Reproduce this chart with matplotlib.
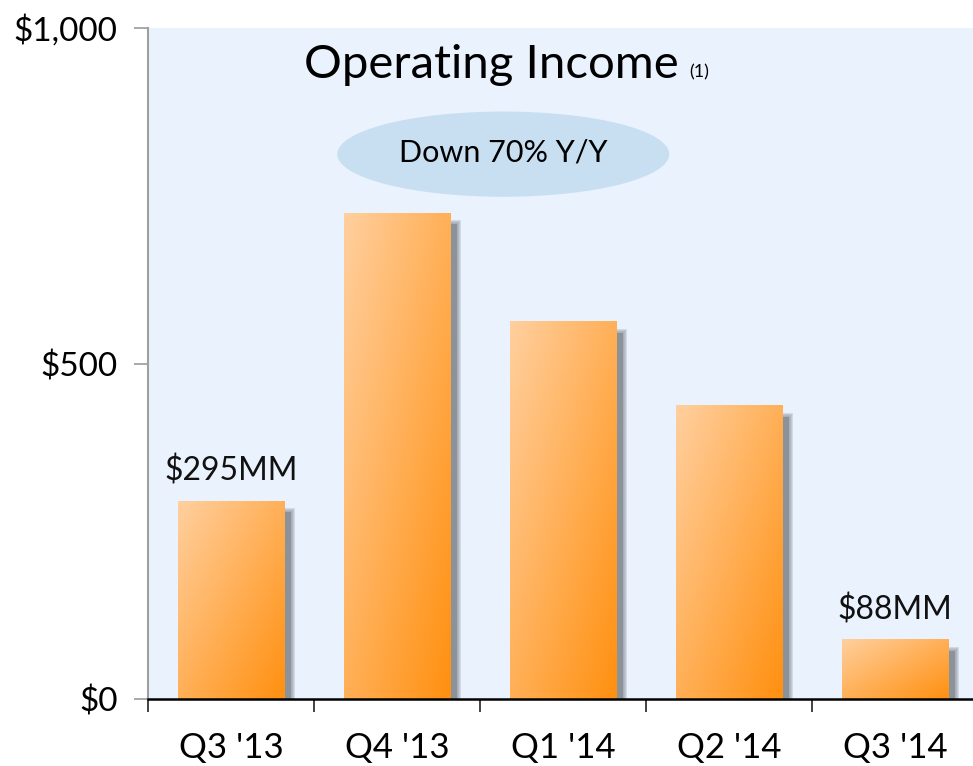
import numpy as np
import matplotlib.pyplot as plt
from matplotlib.patches import Rectangle, Ellipse
from matplotlib.colors import to_rgb

# chart data
quarters = ["Q3 '13", "Q4 '13", "Q1 '14", "Q2 '14", "Q3 '14"]
income = [295, 724, 562, 437, 88]
value_labels = {0: "$295MM", 4: "$88MM"}
yticks = [0, 500, 1000]
ytick_labels = ["$0", "$500", "$1,000"]

plt.rcParams['font.family'] = ['Lato', 'DejaVu Sans']

fig = plt.figure(figsize=(9.73, 7.66), dpi=100)
# plot area runs slightly past the right edge of the picture
ax = fig.add_axes([148 / 973, 67 / 766, 830 / 973, 671 / 766])
ax.set_facecolor('#eaf2fd')

bar_w = 0.64
light = np.array(to_rgb('#ffcf9e'))
dark = np.array(to_rgb('#ff9010'))

# diagonal gradient image (top-left light, bottom-right dark)
n = 64
u, v = np.meshgrid(np.linspace(0, 1, n), np.linspace(0, 1, n))
t = (u + v) / 2
grad = light[None, None, :] * (1 - t[..., None]) + dark[None, None, :] * t[..., None]

px_x = 1 / 166.0      # one pixel in x data units
px_y = 1000 / 671.0   # one pixel in y data units

for i, val in enumerate(income):
    x0 = i - bar_w / 2
    # soft drop shadow: solid core plus a few faded rims
    sx = x0 + 7 * px_x
    stop = val - 11 * px_y
    for e in [4, 3, 2, 1]:
        ax.add_patch(Rectangle((sx - e * px_x, 0), bar_w + 2 * e * px_x, stop + e * px_y,
                               facecolor='#8c929a', edgecolor='none', alpha=0.25, zorder=1))
    ax.add_patch(Rectangle((sx, 0), bar_w, stop, facecolor='#8c929a',
                           edgecolor='none', zorder=1))
    ax.imshow(grad, extent=(x0, x0 + bar_w, 0, val), aspect='auto',
              origin='upper', zorder=2, interpolation='bilinear')
    if i in value_labels:
        ax.text(i, val + 22, value_labels[i], ha='center', va='bottom',
                fontsize=23, color='#111111', zorder=3)

ax.set_xlim(-0.5, 4.5)
ax.set_ylim(0, 1000)

# title and callout
ax.text(2.7, 945, "Operating Income", ha='right', va='center',
        fontsize=34, color='black', zorder=4)
ax.text(2.76, 934, "(1)", ha='left', va='center', fontsize=13, color='black', zorder=4)
ax.add_patch(Ellipse((1.64, 812), 2.0, 127, facecolor='#c8dff2', edgecolor='none', zorder=3))
ax.text(1.64, 814, "Down 70% Y/Y", ha='center', va='center', fontsize=22, zorder=4)

# axes styling
ax.set_yticks(yticks)
ax.set_yticklabels(ytick_labels, fontsize=24)
ax.set_xticks(range(len(quarters)))
ax.set_xticklabels(quarters, fontsize=25)
ax.set_xticks(np.arange(-0.5, 4.0, 1.0), minor=True)
ax.tick_params(axis='x', which='major', length=0, pad=24)
ax.tick_params(axis='x', which='minor', length=9, width=1.2, color='#222222', direction='out')
ax.tick_params(axis='y', length=10, width=1.2, color='#999999', pad=12)

for side in ['top', 'right']:
    ax.spines[side].set_visible(False)
ax.spines['left'].set_color('#a0a0a0')
ax.spines['left'].set_linewidth(1.5)
ax.spines['bottom'].set_color('black')
ax.spines['bottom'].set_linewidth(1.8)
ax.spines['bottom'].set_zorder(5)

fig.savefig('out.png', dpi=100)
